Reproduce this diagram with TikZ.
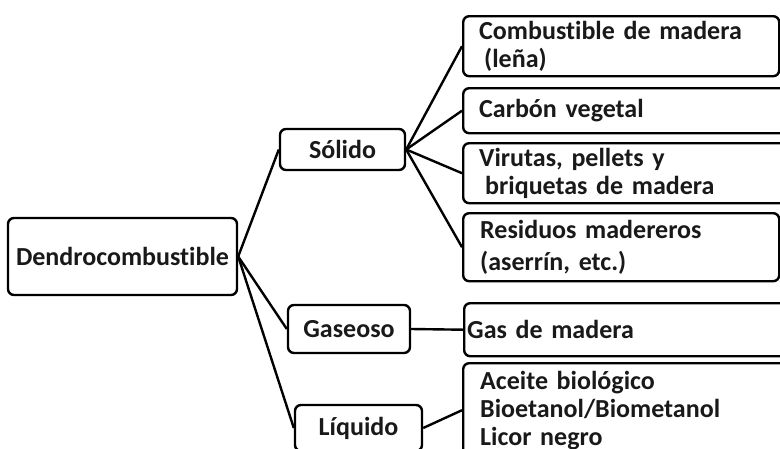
\documentclass[tikz,border=0pt]{standalone}
\usepackage{fontspec}
\setmainfont{Carlito}[Ligatures={NoCommon}]
\begin{document}
\begin{tikzpicture}[x=1pt,y=-1pt,
  box/.style={draw=black, line width=2.4pt, rounded corners=6pt,
    font=\bfseries\fontsize{26}{28}\selectfont, inner sep=0pt, text=black!90},
  lbox/.style={box, anchor=north west, align=left, inner xsep=16pt},
  link/.style={line width=2.4pt, draw=black}]
\useasboundingbox (0,0) rectangle (780,448);
\fill[white] (0,0) rectangle (780,448);
\clip (0,0) rectangle (780,448);

% left and middle boxes
\node[box, minimum width=229, minimum height=77] (dendro) at (122.5,256.5) {Dendrocombustible};
\node[box, minimum width=125, minimum height=41] (sol) at (342.5,149.5) {Sólido};
\node[box, minimum width=122, minimum height=48] (gas) at (349,329) {Gaseoso};
\node[box, minimum width=127, minimum height=46] (liq) at (358.5,428) {Líquido};

% right boxes
\node[lbox, text width=284, minimum height=60] (c1) at (462,15)
  {Combustible de madera\\\hspace*{5pt}(leña)};
\node[lbox, text width=340, minimum height=45] (c2) at (462,87)
  {Carbón vegetal};
\node[lbox, text width=340, minimum height=60] (c3) at (462,142)
  {Virutas, pellets y\\\hspace*{6pt}briquetas de madera};
\node[lbox, text width=282, inner xsep=17pt, minimum height=68] (c4) at (462,212)
  {Residuos madereros\\[4pt](aserrín, etc.)};
\node[lbox, text width=340, inner xsep=3pt, minimum height=53] (gm) at (463,302)
  {Gas de madera};
\node[lbox, text width=340, inner xsep=17pt, minimum height=94] (ac) at (462,362)
  {Aceite biológico\\Bioetanol/Biometanol\\Licor negro};

% connectors
\draw[link] (dendro.east) -- (sol.west);
\draw[link] (dendro.east) -- (gas.west);
\draw[link] (dendro.east) -- (liq.west);
\draw[link] (sol.east) -- (c1.west);
\draw[link] (sol.east) -- (c2.west);
\draw[link] (sol.east) -- (c3.west);
\draw[link] (sol.east) -- (c4.west);
\draw[link] (gas.east) -- (gm.west);
\draw[link] (liq.east) -- (ac.west);
\end{tikzpicture}
\end{document}
